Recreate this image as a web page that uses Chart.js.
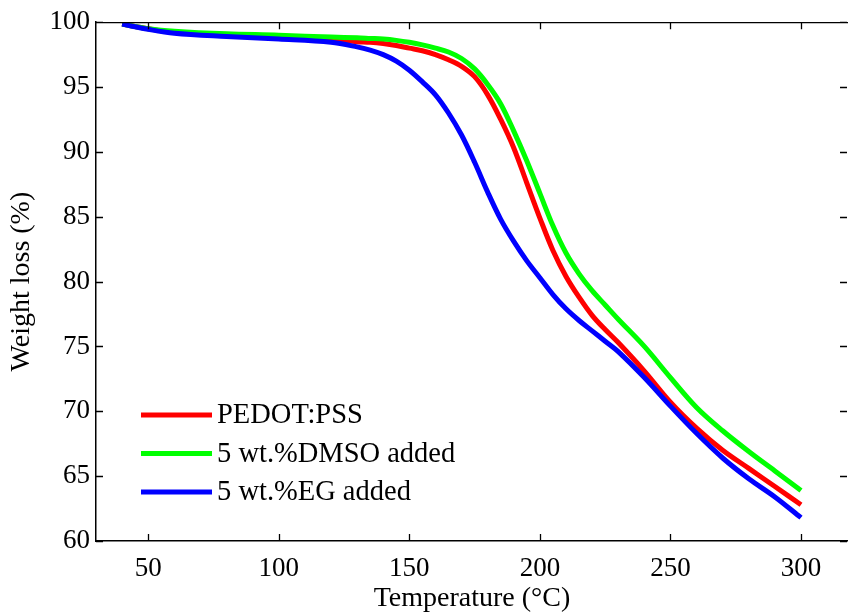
<!DOCTYPE html>
<html>
<head>
<meta charset="utf-8">
<script src="https://cdn.jsdelivr.net/npm/chart.js@4.4.0/dist/chart.umd.min.js"></script>
<style>
  html, body { margin: 0; padding: 0; background: #fff; }
  #wrap { width: 848px; height: 612px; position: relative; }
</style>
</head>
<body>
<div id="wrap"><canvas id="tgaChart"></canvas></div>
<script>
// temperatura (°C) e perdita di peso (%)
const temps = [40, 50, 60, 80, 100, 120, 130, 135, 140, 145, 150, 155, 160, 165, 170, 175, 180, 185, 190, 195, 200, 205, 210, 215, 220, 225, 230, 240, 250, 260, 270, 280, 290, 300];
const pedotPss = [99.85, 99.5, 99.2, 99.0, 98.85, 98.65, 98.5, 98.45, 98.35, 98.2, 98.0, 97.8, 97.5, 97.1, 96.6, 95.8, 94.4, 92.5, 90.3, 87.6, 84.9, 82.4, 80.4, 78.8, 77.4, 76.3, 75.3, 73.1, 70.7, 68.7, 67.0, 65.6, 64.2, 62.8];
const dmsoAdded = [99.85, 99.5, 99.3, 99.1, 99.0, 98.85, 98.8, 98.75, 98.7, 98.6, 98.45, 98.25, 98.0, 97.7, 97.2, 96.4, 95.2, 93.7, 91.6, 89.3, 86.8, 84.3, 82.2, 80.6, 79.3, 78.2, 77.1, 75.0, 72.6, 70.3, 68.5, 66.9, 65.4, 63.9];
const egAdded = [99.85, 99.45, 99.15, 98.9, 98.7, 98.45, 98.1, 97.85, 97.5, 97.0, 96.3, 95.4, 94.4, 93.0, 91.3, 89.2, 86.9, 84.8, 83.1, 81.6, 80.3, 79.0, 77.9, 77.0, 76.2, 75.4, 74.6, 72.6, 70.4, 68.3, 66.4, 64.8, 63.4, 61.8];

const xTicks = [50, 100, 150, 200, 250, 300];
const yTicks = [60, 65, 70, 75, 80, 85, 90, 95, 100];

const FONT = '"Liberation Serif", "Times New Roman", serif';

function toPoints(values) {
    return values.map((v, i) => ({ x: temps[i], y: v }));
}

// Tacche interne, bordo superiore e legenda dentro il grafico
const frameAndLegend = {
    id: 'frameAndLegend',
    afterDraw(chart) {
        const ctx = chart.ctx;
        const a = chart.chartArea;
        const x = chart.scales.x;
        const y = chart.scales.y;
        ctx.save();
        ctx.strokeStyle = '#000';
        ctx.lineWidth = 1.3;
        ctx.beginPath();
        ctx.moveTo(a.left, a.top + 0.5);
        ctx.lineTo(a.right, a.top + 0.5);
        xTicks.forEach(v => {
            const px = Math.round(x.getPixelForValue(v)) + 0.5;
            ctx.moveTo(px, a.bottom);
            ctx.lineTo(px, a.bottom - 7);
            ctx.moveTo(px, a.top);
            ctx.lineTo(px, a.top + 7);
        });
        yTicks.forEach(v => {
            const py = Math.round(y.getPixelForValue(v)) + 0.5;
            ctx.moveTo(a.left, py);
            ctx.lineTo(a.left + 7, py);
            ctx.moveTo(a.right - 1, py);
            ctx.lineTo(a.right - 8, py);
        });
        ctx.stroke();

        // legenda
        ctx.font = '28.5px ' + FONT;
        ctx.textBaseline = 'middle';
        ctx.fillStyle = '#000';
        chart.data.datasets.forEach((ds, i) => {
            const ly = 415 + i * 38.5;
            ctx.strokeStyle = ds.borderColor;
            ctx.lineWidth = 5;
            ctx.beginPath();
            ctx.moveTo(141, ly);
            ctx.lineTo(212, ly);
            ctx.stroke();
            ctx.fillText(ds.label, 217, ly + 1);
        });
        ctx.restore();
    }
};

const ctx = document.getElementById('tgaChart').getContext('2d');
new Chart(ctx, {
    type: 'line',
    data: {
        datasets: [
            {
                label: 'PEDOT:PSS',
                data: toPoints(pedotPss),
                borderColor: '#ff0000',
                borderWidth: 5,
                order: 3
            },
            {
                label: '5 wt.%DMSO added',
                data: toPoints(dmsoAdded),
                borderColor: '#00ff00',
                borderWidth: 5,
                order: 2
            },
            {
                label: '5 wt.%EG added',
                data: toPoints(egAdded),
                borderColor: '#0000ff',
                borderWidth: 5,
                order: 1
            }
        ]
    },
    options: {
        responsive: true,
        maintainAspectRatio: false,
        animation: false,
        layout: { padding: { top: 19, right: 0, left: 0, bottom: 0 } },
        elements: {
            point: { radius: 0 },
            line: { tension: 0.35, fill: false, borderCapStyle: 'butt', borderJoinStyle: 'round' }
        },
        plugins: {
            legend: { display: false },
            tooltip: { enabled: false }
        },
        scales: {
            x: {
                type: 'linear',
                min: 30,
                max: 318,
                grid: { display: false, drawTicks: false },
                border: { display: true, color: '#000', width: 1.5 },
                afterBuildTicks: axis => { axis.ticks = xTicks.map(v => ({ value: v })); },
                afterFit: axis => { axis.height = 71; },
                ticks: {
                    color: '#000',
                    padding: 12,
                    maxRotation: 0,
                    font: { family: FONT, size: 27 }
                },
                title: {
                    display: true,
                    text: 'Temperature (°C)',
                    color: '#000',
                    padding: { top: 0, bottom: -3 },
                    font: { family: FONT, size: 28 }
                }
            },
            y: {
                min: 60,
                max: 100,
                grid: { display: false, drawTicks: false },
                border: { display: true, color: '#000', width: 1.5 },
                afterBuildTicks: axis => { axis.ticks = yTicks.map(v => ({ value: v })); },
                afterFit: axis => { axis.width = 96; },
                ticks: {
                    color: '#000',
                    padding: 6,
                    font: { family: FONT, size: 27 }
                },
                title: {
                    display: true,
                    text: 'Weight loss (%)',
                    color: '#000',
                    padding: { top: 5, bottom: 0 },
                    font: { family: FONT, size: 28 }
                }
            }
        }
    },
    plugins: [frameAndLegend]
});
</script>
</body>
</html>
